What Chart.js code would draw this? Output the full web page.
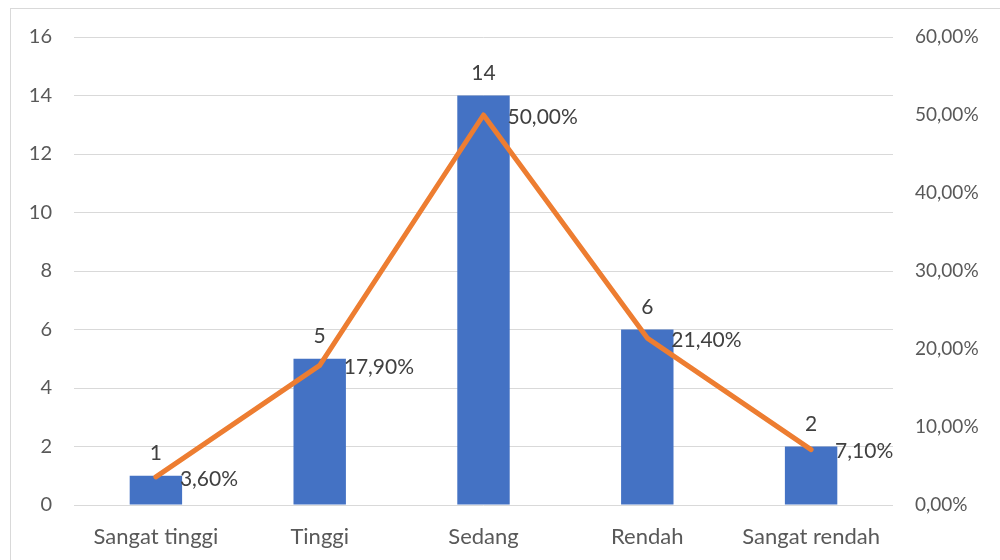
<!DOCTYPE html>
<html>
<head>
<meta charset="utf-8">
<script src="https://cdn.jsdelivr.net/npm/chart.js@4.4.1/dist/chart.umd.min.js"></script>
<style>
html,body{margin:0;padding:0;background:#fff;}
#wrap{width:1000px;height:560px;position:relative;}
</style>
</head>
<body>
<div id="wrap"><canvas id="c" width="1000" height="560"></canvas></div>
<script>
const categories = ["Sangat tinggi", "Tinggi", "Sedang", "Rendah", "Sangat rendah"];
const counts = [1, 5, 14, 6, 2];
const percents = [3.6, 17.9, 50.0, 21.4, 7.1];
const leftTicks = [0, 2, 4, 6, 8, 10, 12, 14, 16];
const rightTicks = [0, 10, 20, 30, 40, 50, 60];

const FONT = "Lato, 'Open Sans', sans-serif";
const fmtPct = v => v.toFixed(2).replace('.', ',') + '%';

const framePlugin = {
  id: 'frame',
  beforeDraw(chart) {
    const ctx = chart.ctx;
    ctx.save();
    ctx.fillStyle = '#fff';
    ctx.fillRect(0, 0, chart.width, chart.height);
    ctx.strokeStyle = '#d9d9d9';
    ctx.lineWidth = 1;
    ctx.strokeRect(10.5, 8.5, 1000, 600);
    ctx.restore();
  }
};

const labelPlugin = {
  id: 'dlabels',
  afterDatasetsDraw(chart) {
    const ctx = chart.ctx;
    ctx.save();
    ctx.font = '21px ' + FONT;
    ctx.fillStyle = '#404040';
    const barMeta = chart.getDatasetMeta(1);
    barMeta.data.forEach((el, i) => {
      ctx.textAlign = 'center';
      ctx.textBaseline = 'bottom';
      ctx.fillText(String(counts[i]), el.x, el.y - 12);
    });
    const lineMeta = chart.getDatasetMeta(0);
    lineMeta.data.forEach((el, i) => {
      ctx.textAlign = 'left';
      ctx.textBaseline = 'middle';
      ctx.fillText(fmtPct(percents[i]), el.x + 24, el.y + 2);
    });
    ctx.restore();
  }
};

new Chart(document.getElementById('c'), {
  data: {
    labels: categories,
    datasets: [
      {
        type: 'line',
        data: percents,
        yAxisID: 'y1',
        borderColor: '#ED7D31',
        borderWidth: 5,
        pointRadius: 0,
        tension: 0,
        order: 0,
        borderCapStyle: 'round',
        borderJoinStyle: 'round'
      },
      {
        type: 'bar',
        data: counts,
        yAxisID: 'y',
        backgroundColor: '#4472C4',
        categoryPercentage: 1.0,
        barPercentage: 0.32,
        order: 1
      }
    ]
  },
  options: {
    responsive: false,
    animation: false,
    events: [],
    layout: { padding: { top: 37, left: 0, right: 0, bottom: 0 } },
    plugins: { legend: { display: false }, tooltip: { enabled: false } },
    scales: {
      x: {
        grid: { display: false, drawTicks: false },
        border: { display: false },
        ticks: { color: '#595959', font: { family: FONT, size: 22 }, padding: 19, maxRotation: 0 },
        afterFit(s) { s.height = 55; }
      },
      y: {
        position: 'left',
        min: 0, max: 16,
        afterBuildTicks(s) { s.ticks = leftTicks.map(v => ({ value: v })); },
        grid: { color: '#d9d9d9', lineWidth: 1, drawTicks: false },
        border: { display: false },
        ticks: { color: '#595959', font: { family: FONT, size: 20 }, padding: 22 },
        afterFit(s) { s.width = 74; }
      },
      y1: {
        position: 'right',
        min: 0, max: 60,
        afterBuildTicks(s) { s.ticks = rightTicks.map(v => ({ value: v })); },
        grid: { display: false, drawTicks: false },
        border: { display: false },
        ticks: { color: '#595959', font: { family: FONT, size: 19 }, padding: 22, callback: v => fmtPct(v) },
        afterFit(s) { s.width = 107; }
      }
    }
  },
  plugins: [framePlugin, labelPlugin]
});
</script>
</body>
</html>
